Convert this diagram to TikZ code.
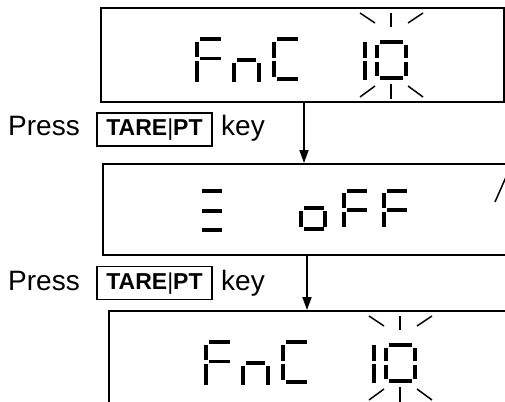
\documentclass[tikz,border=0pt]{standalone}
\usepackage{fontspec}
\setmainfont{Liberation Sans}
\usetikzlibrary{arrows.meta}

\tikzset{
  lcd/.style={draw, line width=2pt, inner sep=0pt, anchor=north west},
  keycap/.style={draw, line width=1.8pt, inner sep=0pt, minimum width=115pt,
    minimum height=33pt, text height=16pt, text depth=4pt,
    font=\fontsize{23}{26}\selectfont},
  label/.style={inner sep=0pt, anchor=base west, font=\fontsize{28}{32}\selectfont},
  flow/.style={line width=1.8pt, -{Triangle[length=13pt,width=9pt]}},
  flash/.style={line width=1.5pt},
}

% "FnC 10" with the flashing 0, top left of F at (195,37)
\newcommand{\fncten}{%
  % F
  \fill (200,37) rectangle (221,41);
  \fill (195,42) rectangle (199,57);
  \fill (200,57) rectangle (221,60);
  \fill (195,61) rectangle (199,82);
  % n
  \fill (237,58) rectangle (256,62);
  \fill (232,63) rectangle (236,82);
  \fill (257,63) rectangle (261,82);
  % C
  \fill (277,37) rectangle (298,41);
  \fill (272,42) rectangle (276,58);
  \fill (272,61) rectangle (276,77);
  \fill (277,77) rectangle (298,81);
  % 1
  \fill (363,42) rectangle (367,58);
  \fill (363,61) rectangle (367,80);
  % 0
  \fill (380,40) rectangle (403,44);
  \fill (375,45) rectangle (379,58);
  \fill (404,45) rectangle (408,58);
  \fill (375,62) rectangle (379,76);
  \fill (404,62) rectangle (408,76);
  \fill (380,76) rectangle (403,80);
  % flash marks
  \draw[flash] (391,13) -- (391,27);
  \draw[flash] (360,13) -- (375,23);
  \draw[flash] (423,13) -- (408,23);
  \draw[flash] (391,84) -- (391,99);
  \draw[flash] (360,97) -- (375,86);
  \draw[flash] (423,97) -- (408,86);
}

\begin{document}
\begin{tikzpicture}[x=1pt, y=-1pt]
\useasboundingbox (0,0) rectangle (505,401);
\clip (0,0) rectangle (505,401);

% first display
\node[lcd, minimum width=403pt, minimum height=94pt] (disp1) at (100,7) {};
\fncten

% first key press
\node[label] (press1) at (8,135) {Press};
\node[keycap] (key1) at (154.5,129.5) {\textbf{TARE}|\textbf{PT}};
\node[label] (word1) at (221,135) {key};

% second display
\node[lcd, minimum width=500pt, minimum height=91pt] (disp2) at (102,163) {};
\fill (202,189) rectangle (222,193);
\fill (202,209) rectangle (222,213);
\fill (202,228) rectangle (222,232);
% o
\fill (304,206) rectangle (324,210);
\fill (299,211) rectangle (303,227);
\fill (323,211) rectangle (327,227);
\fill (304,227) rectangle (324,231);
% F
\fill (347,189) rectangle (367,193);
\fill (342,193) rectangle (346,208);
\fill (347,208) rectangle (367,212);
\fill (342,212) rectangle (346,227);
% F
\fill (387,189) rectangle (407,193);
\fill (382,193) rectangle (386,208);
\fill (387,208) rectangle (407,212);
\fill (382,212) rectangle (386,227);
\draw[flash] (495,202) -- (506,177);

% second key press
\node[label] (press2) at (8,290) {Press};
\node[keycap] (key2) at (154.5,283) {\textbf{TARE}|\textbf{PT}};
\node[label] (word2) at (221,290) {key};

% third display
\node[lcd, minimum width=500pt, minimum height=200pt] (disp3) at (108,310) {};
\begin{scope}[shift={(9,303)}]
\fncten
\end{scope}

\coordinate (a1) at (304,0);
\coordinate (a2) at (307,0);
\draw[flow] (disp1.south -| a1) -- (disp2.north -| a1);
\draw[flow] (disp2.south -| a2) -- (disp3.north -| a2);
\end{tikzpicture}
\end{document}
